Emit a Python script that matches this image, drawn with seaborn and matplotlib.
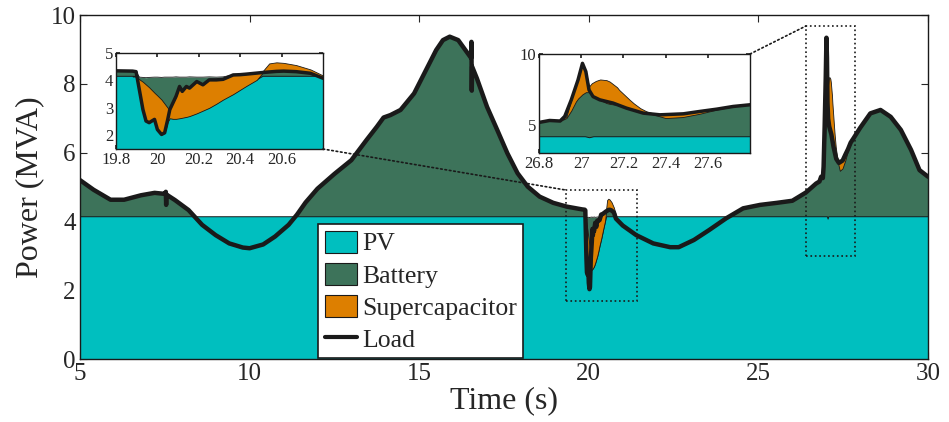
import numpy as np
import pandas as pd
import matplotlib
matplotlib.use('Agg')
import matplotlib.pyplot as plt
import seaborn as sns
from matplotlib.patches import Rectangle, Patch, ConnectionPatch
from matplotlib.lines import Line2D

# load profile (MVA) vs time (s)
t = [5.0, 5.4, 5.9, 6.3, 6.8, 7.2, 7.5, 7.53, 7.54, 7.55, 7.8, 8.2, 8.6, 9.0, 9.4, 9.8,
     10.0, 10.4, 10.75, 11.15, 11.4, 11.65, 12.0, 12.5, 13.0, 13.45, 13.75, 13.95, 14.15,
     14.45, 14.85, 15.2, 15.5, 15.7, 15.9, 16.15, 16.4, 16.53, 16.54, 16.55, 16.56, 16.7,
     17.0, 17.3, 17.6, 17.9, 18.2, 18.55, 18.95, 19.35, 19.8,
     19.88, 19.897, 19.913, 19.93, 19.945, 19.96, 19.986, 20.0, 20.02, 20.035, 20.05, 20.06,
     20.075, 20.09, 20.107, 20.12, 20.14, 20.155, 20.19, 20.22, 20.25, 20.285, 20.317,
     20.366, 20.4, 20.43, 20.48, 20.51, 20.54, 20.575, 20.61, 20.67, 20.74, 20.8,
     21.0, 21.4, 21.9, 22.4, 22.65, 23.1, 23.55, 24.05, 24.55, 25.05, 25.55, 26.0, 26.4,
     26.7, 26.8, 26.85, 26.9,
     26.922, 26.953, 26.985, 27.006, 27.022, 27.037, 27.056, 27.088, 27.12, 27.151, 27.215,
     27.294, 27.373, 27.484, 27.563, 27.642, 27.72, 27.8,
     28.0, 28.3, 28.6, 28.9, 29.2, 29.5, 29.75, 30.0]
load = [5.20, 4.92, 4.63, 4.63, 4.76, 4.83, 4.80, 4.86, 4.48, 4.78, 4.62, 4.33, 3.90, 3.60, 3.36, 3.24,
        3.22, 3.33, 3.56, 3.90, 4.20, 4.55, 4.95, 5.38, 5.78, 6.37, 6.75, 7.02, 7.09,
        7.24, 7.72, 8.40, 8.98, 9.27, 9.37, 9.27, 8.93, 8.75, 9.22, 7.80, 8.50, 8.16,
        7.33, 6.66, 5.98, 5.40, 5.01, 4.72, 4.54, 4.43, 4.35,
        4.34, 4.32, 3.66, 2.94, 2.52, 2.46, 2.58, 2.21, 2.03, 2.09, 2.58, 2.94,
        3.18, 3.42, 3.78, 3.60, 3.78, 3.72, 3.96, 3.84, 4.02, 4.02, 4.04,
        4.20, 4.21, 4.23, 4.27, 4.29, 4.31, 4.33, 4.34, 4.32, 4.26, 4.08,
        3.88, 3.60, 3.36, 3.25, 3.25, 3.46, 3.75, 4.09, 4.38, 4.48, 4.54, 4.60, 4.84,
        5.10, 5.16, 5.30, 5.26,
        5.59, 6.76, 8.17, 9.34, 8.76, 7.46, 6.99, 6.76, 6.64, 6.53, 6.17,
        5.82, 5.70, 5.77, 5.94, 6.10, 6.29, 6.41,
        6.72, 7.14, 7.24, 7.04, 6.66, 6.08, 5.49, 5.30]

# first transient (around 20 s)
w1_t = [19.88, 19.897, 19.913, 19.93, 19.945, 19.96, 19.986, 20.0, 20.02, 20.035, 20.05, 20.06,
        20.075, 20.09, 20.107, 20.12, 20.14, 20.155, 20.19, 20.22, 20.25, 20.285, 20.317,
        20.366, 20.4, 20.43, 20.48, 20.51, 20.54, 20.575, 20.61, 20.67, 20.74, 20.8]
w1_pv = [4.15, 4.15, 3.66, 2.94, 2.52, 2.46, 2.58, 2.21, 2.03, 2.09, 2.50, 2.62,
         2.60, 2.60, 2.62, 2.64, 2.67, 2.70, 2.80, 2.90, 3.00, 3.15, 3.30,
         3.50, 3.66, 3.80, 4.02, 4.15, 4.15, 4.15, 4.15, 4.15, 4.15, 4.15]
w1_bat = [4.34, 4.32, 4.12, 4.11, 4.10, 4.11, 4.12, 4.12, 4.11, 4.12, 4.12, 4.12,
          4.12, 4.13, 4.12, 4.12, 4.12, 4.13, 4.12, 4.12, 4.13, 4.12, 4.13,
          4.20, 4.21, 4.23, 4.27, 4.29, 4.31, 4.33, 4.34, 4.32, 4.26, 4.08]
w1_sc_lo = w1_pv[:27] + [4.29, 4.31, 4.33, 4.34, 4.32, 4.26, 4.08]
w1_sc_hi = [4.15, 4.15, 4.04, 3.95, 3.85, 3.75, 3.55, 3.45, 3.30, 3.15, 3.00, 2.94,
            3.18, 3.42, 3.78, 3.60, 3.78, 3.72, 3.96, 3.84, 4.02, 4.02, 4.04,
            4.20, 4.21, 4.23, 4.27, 4.35, 4.62, 4.66, 4.64, 4.56, 4.40, 4.18]

# second transient (around 27 s)
w2_t = [26.9, 26.93, 26.953, 26.975, 26.985, 27.006, 27.022, 27.037, 27.05, 27.07, 27.09,
        27.12, 27.135, 27.17, 27.18, 27.23, 27.25, 27.28, 27.31, 27.33, 27.37, 27.40,
        27.48, 27.56, 27.64, 27.72]
w2_bat = [5.26, 5.47, 6.00, 6.64, 6.85, 7.15, 7.30, 7.30, 7.10, 6.88, 6.75,
          6.53, 6.47, 6.40, 6.37, 6.12, 6.06, 5.92, 5.85, 5.77, 5.60, 5.47,
          5.54, 5.77, 6.06, 6.29]
w2_sc_hi = [5.26, 5.59, 6.76, 7.80, 8.17, 9.34, 8.76, 7.70, 7.93, 8.10, 8.20,
            8.15, 8.05, 7.65, 7.46, 6.76, 6.50, 6.17, 5.94, 5.85, 5.70, 5.72,
            5.77, 5.94, 6.10, 6.29]

# PV output
pv_t = [5.0] + w1_t + [27.02, 27.04, 27.06, 30.0]
pv = [4.15] + w1_pv + [4.15, 4.08, 4.15, 4.15]

CYAN = '#00BFBF'
GREEN = '#3D735A'
ORANGE = '#DD7F00'

sns.set_theme(style='white', rc={'axes.edgecolor': 'k'})
plt.rcParams['font.family'] = ['Liberation Serif', 'DejaVu Serif']


def draw(a, lw):
    a.fill_between(t, 0, load, color=GREEN, ec='k', lw=0.6)
    a.fill_between(w1_t, 0, w1_bat, color=GREEN, lw=0)
    a.plot(w1_t, w1_bat, color='k', lw=0.6)
    a.fill_between(pv_t, 0, pv, color=CYAN, ec='k', lw=0.7)
    a.fill_between(w1_t, w1_sc_lo, w1_sc_hi, color=ORANGE, ec='k', lw=0.6)
    a.fill_between(w2_t, w2_bat, w2_sc_hi, color=ORANGE, ec='k', lw=0.6)
    sns.lineplot(x=t, y=load, ax=a, color='k', lw=lw, sort=False,
                 estimator=None, legend=False)
    a.tick_params(direction='in', top=True, right=True, bottom=True, left=True)
    for s in a.spines.values():
        s.set_color('k')
        s.set_linewidth(1.0)


fig = plt.figure(figsize=(9.49, 4.22), dpi=100)
ax = fig.add_axes([80/949, 1-359/422, 848/949, 344/422])
draw(ax, 3.2)
ax.set_xlim(5, 30)
ax.set_ylim(0, 10)
ax.set_xticks([5, 10, 15, 20, 25, 30])
ax.set_yticks([0, 2, 4, 6, 8, 10])
ax.tick_params(labelsize=18, length=5, width=0.8, pad=3)
ax.set_xlabel('Time (s)', fontsize=23, labelpad=1)
ax.set_ylabel('Power (MVA)', fontsize=23, labelpad=5)

# zoom boxes
ax.add_patch(Rectangle((19.33, 1.70), 2.08, 3.21, fill=False, ls=':', lw=1.2, ec='k', zorder=5))
ax.add_patch(Rectangle((26.40, 3.00), 1.46, 6.68, fill=False, ls=':', lw=1.2, ec='k', zorder=5))

handles = [Patch(fc=CYAN, ec='k', lw=0.8), Patch(fc=GREEN, ec='k', lw=0.8),
           Patch(fc=ORANGE, ec='k', lw=0.8), Line2D([], [], color='k', lw=3)]
leg = ax.legend(handles, ['PV', 'Battery', 'Supercapacitor', 'Load'],
                loc='upper left', bbox_to_anchor=(0.281, 0.392), fontsize=18.5,
                frameon=True, fancybox=False, edgecolor='k', framealpha=1,
                borderpad=0.25, labelspacing=0.28, handlelength=1.25,
                handleheight=0.95, handletextpad=0.2, borderaxespad=0)
leg.get_frame().set_linewidth(1.2)

# inset 1
ax1 = fig.add_axes([116/949, 1-149/422, 207/949, 96/422])
draw(ax1, 2.5)
ax1.set_xlim(19.8, 20.8)
ax1.set_ylim(1.5, 5)
ax1.set_xticks([19.8, 20, 20.2, 20.4, 20.6])
ax1.set_xticklabels(['19.8', '20', '20.2', '20.4', '20.6'])
ax1.set_yticks([2, 3, 4, 5])
ax1.tick_params(labelsize=12, length=3, pad=2)

# inset 2
ax2 = fig.add_axes([539/949, 1-153/422, 211/949, 99/422])
draw(ax2, 2.5)
ax2.set_xlim(26.8, 27.8)
ax2.set_ylim(3, 10)
ax2.set_xticks([26.8, 27, 27.2, 27.4, 27.6])
ax2.set_xticklabels(['26.8', '27', '27.2', '27.4', '27.6'])
ax2.set_yticks([5, 10])
ax2.tick_params(labelsize=12, length=3, pad=2)

for xa, xb in [((1, 0), (19.33, 4.91)), ((1, 1), (26.40, 9.68))]:
    src = ax1 if xb[0] < 25 else ax2
    cp = ConnectionPatch(xyA=xa, coordsA=src.transAxes, xyB=xb, coordsB=ax.transData,
                         ls=':', lw=1.2, color='k')
    fig.add_artist(cp)

fig.savefig('out.png', dpi=100)
